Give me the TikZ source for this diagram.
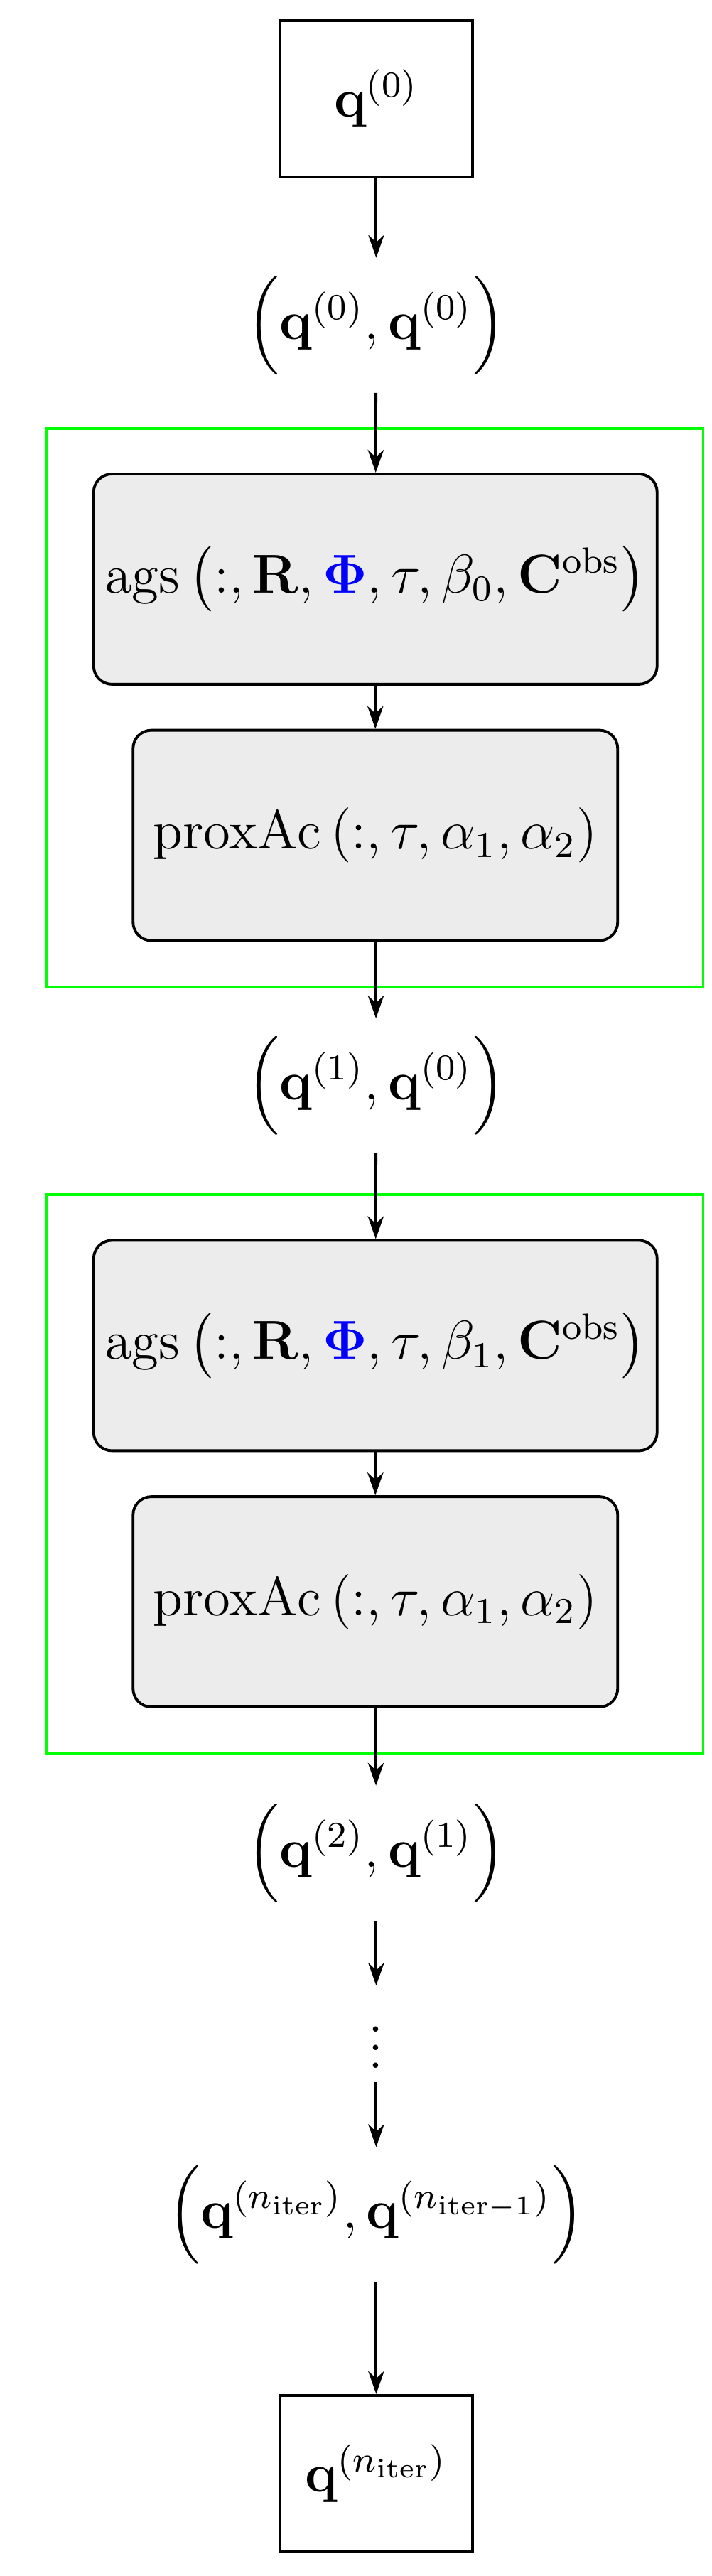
\documentclass[tikz,border=0pt]{standalone}
\usepackage{amsmath,amssymb,bm}
\usetikzlibrary{arrows.meta}
\begin{document}
\begin{tikzpicture}[x=0.36pt,y=-0.36pt,
  sq/.style={draw,line width=0.6pt,minimum width=117*0.36pt,minimum height=95*0.36pt,inner sep=0pt},
  blk/.style={draw,line width=0.6pt,fill=gray!15,rounded corners=4pt,minimum height=128*0.36pt,inner sep=0pt},
  grn/.style={draw=green,line width=0.6pt},
  arr/.style={-{Stealth[length=5pt,width=3.5pt]},line width=0.6pt},
  lbl/.style={inner sep=0pt,outer sep=4pt,font=\large}]
\useasboundingbox (0,0) rectangle (433,1568);
\node[sq,font=\large] (q0) at (229,60) {$\mathbf{q}^{(0)}$};
\node[lbl] (p0) at (229,198) {$\Big(\mathbf{q}^{(0)},\mathbf{q}^{(0)}\Big)$};
\draw[grn] (28,261) rectangle (428,601);
\node[blk,minimum width=343*0.36pt,font=\large] (a1) at (228.5,352.5) {$\mathrm{ags}\left(:,\mathbf{R},{\color{blue}\boldsymbol{\Phi}},\tau,\beta_0,\mathbf{C}^{\mathrm{obs}}\right)$};
\node[blk,minimum width=295*0.36pt,font=\large] (x1) at (228.5,508.5) {$\mathrm{proxAc}\left(:,\tau,\alpha_1,\alpha_2\right)$};
\node[lbl] (p1) at (229,661) {$\Big(\mathbf{q}^{(1)},\mathbf{q}^{(0)}\Big)$};
\draw[grn] (28,727) rectangle (428,1067);
\node[blk,minimum width=343*0.36pt,font=\large] (a2) at (228.5,819) {$\mathrm{ags}\left(:,\mathbf{R},{\color{blue}\boldsymbol{\Phi}},\tau,\beta_1,\mathbf{C}^{\mathrm{obs}}\right)$};
\node[blk,minimum width=295*0.36pt,font=\large] (x2) at (228.5,975) {$\mathrm{proxAc}\left(:,\tau,\alpha_1,\alpha_2\right)$};
\node[lbl] (p2) at (229,1128) {$\Big(\mathbf{q}^{(2)},\mathbf{q}^{(1)}\Big)$};
\node[lbl,outer sep=3pt] (d) at (229,1238) {$\vdots$};
\node[lbl] (pn) at (229,1348) {$\Big(\mathbf{q}^{(n_{\mathrm{iter}})},\mathbf{q}^{(n_{\mathrm{iter}-1})}\Big)$};
\node[sq,font=\large] (qn) at (229,1505.5) {$\mathbf{q}^{(n_{\mathrm{iter}})}$};
\draw[arr] (q0) -- (p0);
\draw[arr] (p0) -- (a1);
\draw[arr] (a1) -- (x1);
\draw[arr] (x1) -- (p1);
\draw[arr] (p1) -- (a2);
\draw[arr] (a2) -- (x2);
\draw[arr] (x2) -- (p2);
\draw[arr] (p2) -- (d);
\draw[arr] (d) -- (pn);
\draw[arr] (pn) -- (qn);
\end{tikzpicture}
\end{document}
